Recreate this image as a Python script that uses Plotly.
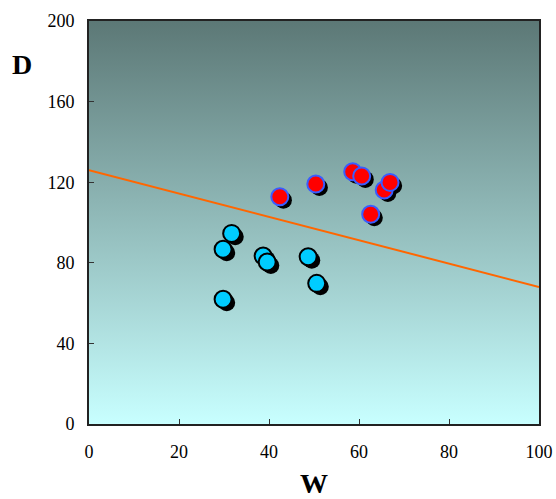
import plotly.graph_objects as go

# Data
w_cyan = [31.7, 29.8, 38.7, 39.6, 48.7, 50.6, 29.8]
d_cyan = [94.6, 86.7, 83.4, 80.4, 83.0, 69.8, 61.9]
w_red = [42.4, 50.4, 58.6, 60.6, 65.6, 66.9, 62.6]
d_red = [112.8, 119.1, 125.2, 123.1, 116.1, 119.9, 104.1]
line_w = [0, 100]
line_d = [126, 68]
x_ticks = [0, 20, 40, 60, 80, 100]
y_ticks = [0, 40, 80, 120, 160, 200]
x_range = [0, 100]
y_range = [0, 200]

# shadow offset in data units (approx 3px)
sx, sy = 0.8, -1.7
serif = "Liberation Serif, Times New Roman, serif"

fig = go.Figure()

# gradient background
fig.add_trace(go.Scatter(
    x=[x_range[0], x_range[1], x_range[1], x_range[0], x_range[0]],
    y=[y_range[0], y_range[0], y_range[1], y_range[1], y_range[0]],
    mode="lines", line=dict(width=0), fill="toself",
    fillgradient=dict(type="vertical",
                      colorscale=[[0, "#c8ffff"], [1, "#5c7876"]]),
    hoverinfo="skip", showlegend=False))

# regression line
fig.add_trace(go.Scatter(x=line_w, y=line_d, mode="lines",
                         line=dict(color="#ff6600", width=2),
                         showlegend=False))

# shadows
for xs, ys in [(w_cyan, d_cyan), (w_red, d_red)]:
    fig.add_trace(go.Scatter(
        x=[v + sx for v in xs], y=[v + sy for v in ys], mode="markers",
        marker=dict(size=17, color="black", line=dict(width=0)),
        showlegend=False))

fig.add_trace(go.Scatter(x=w_cyan, y=d_cyan, mode="markers",
                         marker=dict(size=17, color="#00ccff",
                                     line=dict(color="black", width=2)),
                         showlegend=False))
fig.add_trace(go.Scatter(x=w_red, y=d_red, mode="markers",
                         marker=dict(size=17, color="#ff0000",
                                     line=dict(color="#3a5cff", width=2)),
                         showlegend=False))

fig.update_layout(
    width=556, height=499,
    margin=dict(l=89, r=17, t=21, b=75, autoexpand=False),
    paper_bgcolor="white", plot_bgcolor="white",
    font=dict(family=serif, size=18, color="black"),
    showlegend=False,
    xaxis=dict(range=x_range, tickvals=x_ticks, ticks="inside", ticklen=5,
               tickcolor="#333", showgrid=False, zeroline=False,
               showline=True, linecolor="#222", linewidth=2, mirror=True,
               automargin=False, ticklabelstandoff=10,
               tickfont=dict(size=18, family=serif)),
    yaxis=dict(range=y_range, tickvals=y_ticks, ticks="inside", ticklen=5,
               tickcolor="#333", showgrid=False, zeroline=False,
               showline=True, linecolor="#222", linewidth=2, mirror=True,
               automargin=False, ticklabelstandoff=9,
               tickfont=dict(size=18, family=serif)),
    annotations=[
        dict(text="<b>D</b>", xref="paper", yref="paper", x=-0.149, y=0.891,
             xanchor="center", yanchor="middle",
             showarrow=False, font=dict(size=28, family=serif)),
        dict(text="<b>W</b>", xref="paper", yref="paper", x=0.5, y=-0.148,
             xanchor="center", yanchor="middle",
             showarrow=False, font=dict(size=28, family=serif)),
    ],
)

fig.write_html("out.html")
